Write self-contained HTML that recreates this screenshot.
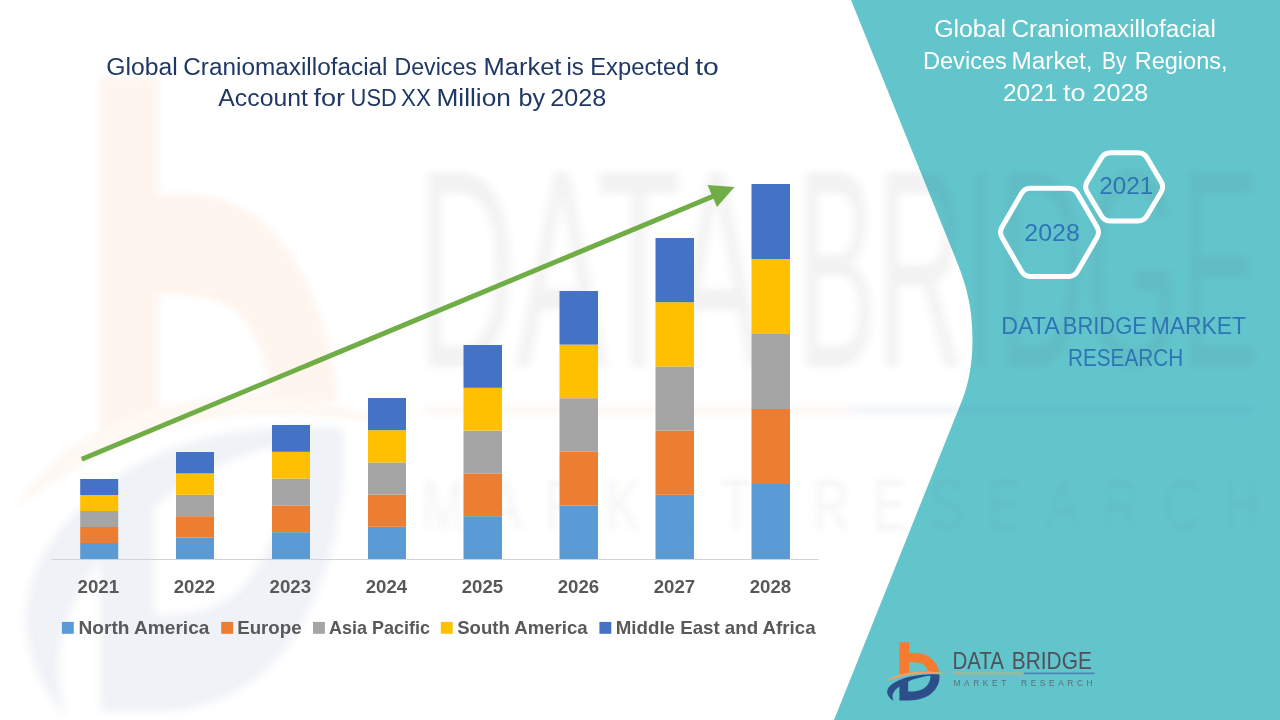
<!DOCTYPE html>
<html><head><meta charset="utf-8"><title>Global Craniomaxillofacial Devices Market</title>
<style>
html,body{margin:0;padding:0;background:#fff;}
body{width:1280px;height:720px;overflow:hidden;position:relative;font-family:"Liberation Sans",sans-serif;}
svg{position:absolute;left:0;top:0;display:block}
text{font-family:"Liberation Sans",sans-serif;}
</style></head><body>
<svg width="1280" height="720" viewBox="0 0 1280 720">
<defs>
<filter id="b3" x="-10%" y="-10%" width="120%" height="120%"><feGaussianBlur stdDeviation="5 3"/></filter>
<filter id="b4" x="-10%" y="-10%" width="120%" height="120%"><feGaussianBlur stdDeviation="5 4"/></filter>
<filter id="b2" x="-10%" y="-10%" width="120%" height="120%"><feGaussianBlur stdDeviation="3.5 2.6"/></filter>

<g id="icon">
<path id="ic-o" fill="#F47B30" d="M16.6,6.5 L26.35,6.5 L26.35,17.2 C30,17 33,17.1 36,17.5 C40,18 43.5,19.2 46.5,21.2 C50,23.6 53,27 54.8,31 C55.5,32.6 56,34.2 56.2,36.2 C44,36.2 28,37 16.6,39.4 Z M26.35,26.4 L26.35,36.9 C32,36 39,35.5 45,35.4 C44.6,32.5 42.5,29.5 39.5,28 C36.5,26.6 31,26.3 26.35,26.4 Z"/>
<path id="ic-s" fill="#F6A25E" d="M2.6,46 C6.5,42.3 11.5,40.2 16.6,38.9 C24,37 32,35.9 40,35.8 C48,35.7 55,36.3 62.4,37.5 L62.4,38 C55,37.6 48,37.3 40,37.5 C32,37.8 24,39 16.6,41.2 C11.5,42.7 7,44.2 2.6,46 Z"/>
<path id="ic-b" fill="#2C4F8C" d="M56.6,38.6 C57,42 56.6,45 55.5,48 C54,52 51,56 47,59 C42,62.5 35,64.5 26.35,64.6 L16.6,64.6 L16.6,50.7 C13.5,52.8 11,55.5 10,58.5 C9.4,60.5 9.8,63 10.9,65.2 C7.5,63 4.6,60 4.4,56.5 C4.2,53 7,49.5 11.8,46.8 C16,44.3 21,42.3 26.35,41 C32,39.6 38,39 44,38.7 C48,38.5 52,38.5 56.6,38.6 Z M25.4,45.9 L25.4,55.8 C30,55.9 35,55.5 38.5,54 C42.5,52.2 45.5,49 46.8,45.5 C47.4,43.8 47.7,42 47.7,40 C40,40.8 31,43 25.4,45.9 Z"/>
</g>
</defs>
<rect width="1280" height="720" fill="#fff"/>
<!-- teal panel -->
<path d="M851,0 L953,252 C963.5,278 972.5,300 972.5,340 C972.5,362 969,383 962.2,400 L834,720 L1280,720 L1280,0 Z" fill="#63C5CC"/>

<!-- WATERMARK -->
<g opacity="0.075" filter="url(#b2)">
<use href="#ic-o" transform="matrix(6,0,0,10.9,0,7)"/>
<use href="#ic-s" transform="matrix(6,0,0,10.9,0,7)"/>
</g>
<g opacity="0.075" filter="url(#b4)">
<use href="#ic-b" transform="matrix(6.05,0,0,10.9,0,7)"/>
</g>
<g opacity="0.068" filter="url(#b3)">
<g transform="translate(417,367) scale(6,11.43)"><text x="0" y="0" font-size="24.8" fill="#4A4A55" textLength="57.5" lengthAdjust="spacingAndGlyphs">DATA</text>
<text x="63.2" y="0" font-size="24.8" fill="#4A4A55" textLength="77.3" lengthAdjust="spacingAndGlyphs">BRIDGE</text></g>
<rect x="425" y="406" width="425" height="8" fill="#D98A4A"/>
<rect x="850" y="406" width="405" height="8" fill="#3E6FB0"/>
</g>
<g opacity="0.06" filter="url(#b2)">
<g transform="translate(422,530) scale(6.03,8.7)"><text x="0" y="0" font-size="8.4" fill="#5A5A62" textLength="139" lengthAdjust="spacing">MARKET  RESEARCH</text></g>
</g>
<!-- axis -->
<rect x="51.5" y="559" width="767" height="1" fill="#D3D3D3"/>
<!-- bars -->
<rect x="80.2" y="543" width="38.0" height="16.0" fill="#5B9BD5"/>
<rect x="80.2" y="527" width="38.0" height="16.0" fill="#ED7D31"/>
<rect x="80.2" y="511" width="38.0" height="16.0" fill="#A5A5A5"/>
<rect x="80.2" y="495" width="38.0" height="16.0" fill="#FFC000"/>
<rect x="80.2" y="479" width="38.0" height="16.0" fill="#4472C4"/>
<rect x="176" y="537.6" width="38.0" height="21.4" fill="#5B9BD5"/>
<rect x="176" y="516.2" width="38.0" height="21.4" fill="#ED7D31"/>
<rect x="176" y="494.8" width="38.0" height="21.4" fill="#A5A5A5"/>
<rect x="176" y="473.4" width="38.0" height="21.4" fill="#FFC000"/>
<rect x="176" y="452" width="38.0" height="21.4" fill="#4472C4"/>
<rect x="272" y="532.2" width="38.0" height="26.8" fill="#5B9BD5"/>
<rect x="272" y="505.4" width="38.0" height="26.8" fill="#ED7D31"/>
<rect x="272" y="478.6" width="38.0" height="26.8" fill="#A5A5A5"/>
<rect x="272" y="451.8" width="38.0" height="26.8" fill="#FFC000"/>
<rect x="272" y="425" width="38.0" height="26.8" fill="#4472C4"/>
<rect x="368" y="526.8" width="38.0" height="32.2" fill="#5B9BD5"/>
<rect x="368" y="494.6" width="38.0" height="32.2" fill="#ED7D31"/>
<rect x="368" y="462.4" width="38.0" height="32.2" fill="#A5A5A5"/>
<rect x="368" y="430.2" width="38.0" height="32.2" fill="#FFC000"/>
<rect x="368" y="398" width="38.0" height="32.2" fill="#4472C4"/>
<rect x="463.5" y="516.2" width="38.5" height="42.8" fill="#5B9BD5"/>
<rect x="463.5" y="473.4" width="38.5" height="42.8" fill="#ED7D31"/>
<rect x="463.5" y="430.6" width="38.5" height="42.8" fill="#A5A5A5"/>
<rect x="463.5" y="387.8" width="38.5" height="42.8" fill="#FFC000"/>
<rect x="463.5" y="345" width="38.5" height="42.8" fill="#4472C4"/>
<rect x="559.5" y="505.4" width="38.5" height="53.6" fill="#5B9BD5"/>
<rect x="559.5" y="451.8" width="38.5" height="53.6" fill="#ED7D31"/>
<rect x="559.5" y="398.2" width="38.5" height="53.6" fill="#A5A5A5"/>
<rect x="559.5" y="344.6" width="38.5" height="53.6" fill="#FFC000"/>
<rect x="559.5" y="291" width="38.5" height="53.6" fill="#4472C4"/>
<rect x="655.5" y="494.8" width="38.5" height="64.2" fill="#5B9BD5"/>
<rect x="655.5" y="430.6" width="38.5" height="64.2" fill="#ED7D31"/>
<rect x="655.5" y="366.4" width="38.5" height="64.2" fill="#A5A5A5"/>
<rect x="655.5" y="302.2" width="38.5" height="64.2" fill="#FFC000"/>
<rect x="655.5" y="238" width="38.5" height="64.2" fill="#4472C4"/>
<rect x="751.5" y="484" width="38.5" height="75.0" fill="#5B9BD5"/>
<rect x="751.5" y="409" width="38.5" height="75.0" fill="#ED7D31"/>
<rect x="751.5" y="334" width="38.5" height="75.0" fill="#A5A5A5"/>
<rect x="751.5" y="259" width="38.5" height="75.0" fill="#FFC000"/>
<rect x="751.5" y="184" width="38.5" height="75.0" fill="#4472C4"/>
<!-- arrow -->
<line x1="81.7" y1="459.2" x2="718" y2="194.2" stroke="#70AD47" stroke-width="5"/>
<polygon points="734.5,187 707.5,185 717,207" fill="#70AD47"/>
<g opacity="0.999">
<!-- years -->
<g font-size="18.3" font-weight="bold" fill="#595959">
<text x="98.3" y="593" text-anchor="middle" textLength="41.5" lengthAdjust="spacingAndGlyphs">2021</text>
<text x="194.4" y="593" text-anchor="middle" textLength="41.5" lengthAdjust="spacingAndGlyphs">2022</text>
<text x="290.3" y="593" text-anchor="middle" textLength="41.5" lengthAdjust="spacingAndGlyphs">2023</text>
<text x="386.4" y="593" text-anchor="middle" textLength="41.5" lengthAdjust="spacingAndGlyphs">2024</text>
<text x="482.4" y="593" text-anchor="middle" textLength="41.5" lengthAdjust="spacingAndGlyphs">2025</text>
<text x="578.4" y="593" text-anchor="middle" textLength="41.5" lengthAdjust="spacingAndGlyphs">2026</text>
<text x="674.4" y="593" text-anchor="middle" textLength="41.5" lengthAdjust="spacingAndGlyphs">2027</text>
<text x="770.4" y="593" text-anchor="middle" textLength="41.5" lengthAdjust="spacingAndGlyphs">2028</text>
</g>
<g font-size="18.5" font-weight="bold" fill="#595959">
<rect x="61.9" y="621.9" width="11.9" height="11.9" fill="#5B9BD5"/>
<text x="78.5" y="633.8" textLength="130.9" lengthAdjust="spacingAndGlyphs">North America</text>
<rect x="221.2" y="621.9" width="11.9" height="11.9" fill="#ED7D31"/>
<text x="237.2" y="633.8" textLength="64.4" lengthAdjust="spacingAndGlyphs">Europe</text>
<rect x="313" y="621.9" width="11.9" height="11.9" fill="#A5A5A5"/>
<text x="329.1" y="633.8" textLength="100.9" lengthAdjust="spacingAndGlyphs">Asia Pacific</text>
<rect x="440.8" y="621.9" width="11.9" height="11.9" fill="#FFC000"/>
<text x="457.2" y="633.8" textLength="130.4" lengthAdjust="spacingAndGlyphs">South America</text>
<rect x="599.4" y="621.9" width="11.9" height="11.9" fill="#4472C4"/>
<text x="615.8" y="633.8" textLength="199.8" lengthAdjust="spacingAndGlyphs">Middle East and Africa</text>
</g>
<!-- titles -->
<g font-size="23.5" fill="#1F3864">
<text x="106.3" y="75" textLength="71.4" lengthAdjust="spacingAndGlyphs">Global</text>
<text x="183.3" y="75" textLength="204.2" lengthAdjust="spacingAndGlyphs">Craniomaxillofacial</text>
<text x="394.4" y="75" textLength="82.5" lengthAdjust="spacingAndGlyphs">Devices</text>
<text x="483.5" y="75" textLength="77.9" lengthAdjust="spacingAndGlyphs">Market</text>
<text x="566.5" y="75" textLength="17.4" lengthAdjust="spacingAndGlyphs">is</text>
<text x="590.2" y="75" textLength="99.2" lengthAdjust="spacingAndGlyphs">Expected</text>
<text x="695.2" y="75" textLength="23.6" lengthAdjust="spacingAndGlyphs">to</text>
<text x="218.3" y="106.3" textLength="89.6" lengthAdjust="spacingAndGlyphs">Account</text>
<text x="313.4" y="106.3" textLength="31.6" lengthAdjust="spacingAndGlyphs">for</text>
<text x="350.6" y="106.3" textLength="46.2" lengthAdjust="spacingAndGlyphs">USD</text>
<text x="401.0" y="106.3" textLength="29.9" lengthAdjust="spacingAndGlyphs">XX</text>
<text x="436.5" y="106.3" textLength="74.4" lengthAdjust="spacingAndGlyphs">Million</text>
<text x="518.5" y="106.3" textLength="26.6" lengthAdjust="spacingAndGlyphs">by</text>
<text x="550.2" y="106.3" textLength="56.1" lengthAdjust="spacingAndGlyphs">2028</text>
</g>
<g font-size="23.5" fill="#fff">
<text x="934.2" y="36.6" textLength="71.8" lengthAdjust="spacingAndGlyphs">Global</text>
<text x="1011.5" y="36.6" textLength="204.3" lengthAdjust="spacingAndGlyphs">Craniomaxillofacial</text>
<text x="922.9" y="68.9" textLength="84.0" lengthAdjust="spacingAndGlyphs">Devices</text>
<text x="1011.5" y="68.9" textLength="81.1" lengthAdjust="spacingAndGlyphs">Market,</text>
<text x="1102.0" y="68.9" textLength="24.4" lengthAdjust="spacingAndGlyphs">By</text>
<text x="1134.7" y="68.9" textLength="92.9" lengthAdjust="spacingAndGlyphs">Regions,</text>
<text x="1003.0" y="100.7" textLength="54.4" lengthAdjust="spacingAndGlyphs">2021</text>
<text x="1063.0" y="100.7" textLength="22.6" lengthAdjust="spacingAndGlyphs">to</text>
<text x="1092.5" y="100.7" textLength="55.8" lengthAdjust="spacingAndGlyphs">2028</text>
</g>
<!-- hexagons -->
<g fill="none" stroke="#fff" stroke-width="5" stroke-linejoin="round">
<path d="M1002.00,237.50 Q999.00,232.30 1002.00,227.11 L1021.50,193.39 Q1024.50,188.20 1030.50,188.20 L1068.50,188.20 Q1074.50,188.20 1077.50,193.39 L1097.00,227.11 Q1100.00,232.30 1097.00,237.50 L1077.50,271.30 Q1074.50,276.50 1068.50,276.50 L1030.50,276.50 Q1024.50,276.50 1021.50,271.30 Z"/>
<path d="M1087.17,191.95 Q1084.10,186.80 1087.18,181.65 L1101.42,157.85 Q1104.50,152.70 1110.50,152.70 L1138.00,152.70 Q1144.00,152.70 1147.06,157.86 L1161.14,181.64 Q1164.20,186.80 1161.15,191.97 L1147.05,215.83 Q1144.00,221.00 1138.00,221.00 L1110.50,221.00 Q1104.50,221.00 1101.43,215.85 Z"/>
</g>
<g font-size="24" fill="#2E75B6" text-anchor="middle">
<text x="1052" y="240.7" textLength="55.5" lengthAdjust="spacingAndGlyphs">2028</text>
<text x="1126.3" y="194.2" textLength="54" lengthAdjust="spacingAndGlyphs">2021</text>
</g>
<g font-size="23.2" fill="#2E75B6">
<text x="1001.2" y="333.5" textLength="58.5" lengthAdjust="spacingAndGlyphs">DATA</text>
<text x="1062.8" y="333.5" textLength="84.1" lengthAdjust="spacingAndGlyphs">BRIDGE</text>
<text x="1150.7" y="333.5" textLength="95.4" lengthAdjust="spacingAndGlyphs">MARKET</text>
<text x="1068.0" y="365.7" textLength="115.1" lengthAdjust="spacingAndGlyphs">RESEARCH</text>
</g>
</g>
<!-- logo -->
<g transform="translate(882.8,635.8)" opacity="0.999">
<use href="#icon"/>
<g font-size="24.8" fill="#50505B">
<text x="69.6" y="33.7" textLength="51.6" lengthAdjust="spacingAndGlyphs">DATA</text>
<text x="129" y="33.7" textLength="80" lengthAdjust="spacingAndGlyphs">BRIDGE</text>
</g>
<rect x="70.5" y="36.7" width="70.5" height="1.7" fill="#C9A983"/>
<rect x="141" y="36.7" width="70.8" height="1.7" fill="#4B84B2"/>
<g font-size="8.4" fill="#5A6068" opacity="0.85">
<text x="70.6" y="49.8" textLength="53" lengthAdjust="spacing">MARKET</text>
<text x="138.3" y="49.8" textLength="71.5" lengthAdjust="spacing">RESEARCH</text>
</g>
</g>
</svg>
</body></html>
